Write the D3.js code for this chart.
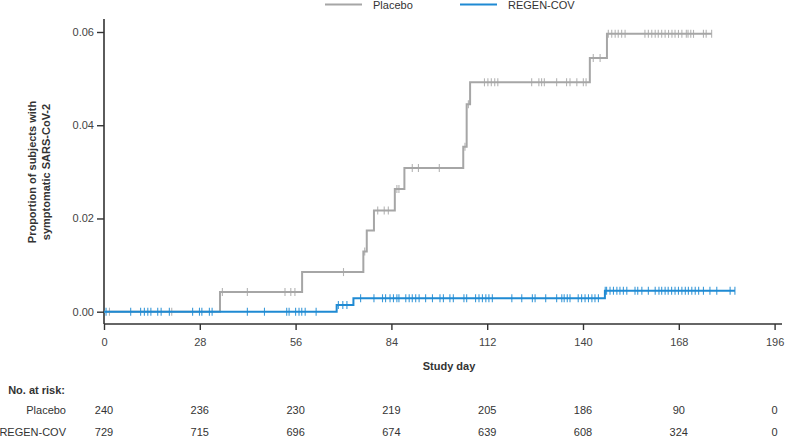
<!DOCTYPE html>
<html>
<head>
<meta charset="utf-8">
<script src="https://cdn.jsdelivr.net/npm/d3@7"></script>
<style>
  body { margin: 0; background: #fff; }
  svg { display: block; font-family: "Liberation Sans", Arial, sans-serif; }
</style>
</head>
<body>
<svg id="chart" width="796" height="438"></svg>
<script>
// ---------- Data ----------
const seriesNames = ["Placebo", "REGEN-COV"];
const seriesColors = ["#a6a6a6", "#1f8ad3"];
const censorColors = ["#b4b4b4", "#3b9ad9"];

// Kaplan-Meier cumulative incidence steps: [day, proportion]
const placeboSteps = [[0, 0], [33.9, 0.0042], [57.9, 0.0085], [75.8, 0.0129], [76.8, 0.0174],
  [78.9, 0.0217], [85.0, 0.0263], [87.8, 0.0308], [105.0, 0.0354], [106.0, 0.0445],
  [107.0, 0.0492], [142.0, 0.0544], [147.0, 0.0596]];
const placeboEnd = 177.6;
const placeboCensored = [1.6, 19.8, 34.6, 41.9, 52.9, 54.6, 55.8, 70.0, 76.2, 80.0, 81.9, 83.1,
  85.6, 86.2, 90.1, 91.9, 98.0, 105.5, 106.5, 111.2, 112.2, 113.2, 114.2, 115.1, 125.0, 127.1,
  127.9, 128.7, 132.3, 135.2, 136.2, 138.2, 140.1, 140.9, 143.0, 145.0, 147.4, 148.4, 149.4,
  150.3, 151.3, 152.3, 158.1, 159.1, 160.1, 161.1, 162.0, 163.0, 164.0, 165.0, 166.0, 166.9,
  167.9, 168.9, 170.2, 170.7, 171.5, 172.3, 175.2, 176.0, 177.6];

const regenSteps = [[0, 0], [68.0, 0.00144], [72.9, 0.00288], [146.4, 0.0045]];
const regenEnd = 184.4;
const regenCensored = [0.6, 7.8, 10.7, 11.8, 12.8, 13.7, 15.7, 16.7, 19.1, 25.9, 27.9, 28.6,
  30.8, 31.6, 41.9, 46.9, 53.4, 54.1, 56.0, 57.0, 57.8, 58.8, 62.0, 68.5, 69.8, 71.0,
  75.0, 78.9, 81.4, 82.3, 83.6, 84.6, 85.6, 86.2, 88.2, 89.2, 90.1, 91.1, 92.1, 94.0, 96.0,
  98.2, 99.2, 101.1, 102.1, 105.2, 106.0, 108.6, 109.6, 110.6, 111.6, 112.5, 113.5, 119.2,
  122.1, 125.2, 126.0, 129.1, 132.3, 133.8, 134.5, 135.4, 136.2, 138.6, 139.6, 140.6, 141.6,
  142.6, 143.5, 144.5, 146.5, 146.9, 147.9, 148.9, 149.9, 150.8, 151.8, 152.8, 155.2, 156.0,
  157.2, 159.1, 161.1, 162.2, 163.0, 164.0, 164.9, 165.9, 166.9, 167.9, 168.9, 169.9, 170.8,
  171.8, 172.8, 173.8, 175.2, 177.1, 179.1, 183.0, 184.4];

const xTicks = [0, 28, 56, 84, 112, 140, 168, 196];
const yTicks = [0, 0.02, 0.04, 0.06];
const riskPlacebo = [240, 236, 230, 219, 205, 186, 90, 0];
const riskRegen = [729, 715, 696, 674, 639, 608, 324, 0];

// ---------- Layout ----------
const svg = d3.select("#chart");
const x = d3.scaleLinear().domain([0, 196]).range([104, 774.6]);
const y = d3.scaleLinear().domain([0, 0.06]).range([311.7, 32]);
const axisY = 324, axisTop = 19, axisRight = 782;
const axisColor = "#333";

// Axes
const gx = svg.append("g").attr("transform", `translate(0,${axisY})`)
  .call(d3.axisBottom(x).tickValues(xTicks).tickFormat(d3.format("d")).tickSize(6).tickPadding(8).tickSizeOuter(0));
gx.select(".domain").remove();
svg.append("line").attr("x1", x(0)).attr("x2", axisRight).attr("y1", axisY).attr("y2", axisY)
  .attr("stroke", axisColor).attr("stroke-width", 1.6);

const gy = svg.append("g").attr("transform", `translate(${x(0)},0)`)
  .call(d3.axisLeft(y).tickValues(yTicks).tickFormat(d3.format(".2f")).tickSize(7).tickPadding(3).tickSizeOuter(0));
gy.select(".domain").remove();
svg.append("line").attr("x1", x(0)).attr("x2", x(0)).attr("y1", axisTop).attr("y2", axisY)
  .attr("stroke", axisColor).attr("stroke-width", 1.6);

[gx, gy].forEach(g => {
  g.selectAll(".tick line").attr("stroke", axisColor).attr("stroke-width", 1.4);
  g.selectAll(".tick text").attr("fill", "#444").attr("font-size", 11)
    .attr("font-family", "Liberation Sans, Arial, sans-serif");
});

// Axis titles
svg.append("text").attr("x", 449).attr("y", 370).attr("text-anchor", "middle")
  .attr("font-size", 11).attr("font-weight", "bold").attr("fill", "#333").text("Study day");
const yt = svg.append("text").attr("transform", "translate(36,172) rotate(-90)")
  .attr("text-anchor", "middle").attr("font-size", 11).attr("font-weight", "bold").attr("fill", "#333");
yt.append("tspan").attr("x", 0).attr("y", 0).text("Proportion of subjects with");
yt.append("tspan").attr("x", 0).attr("y", 14).text("symptomatic SARS-CoV-2");

// ---------- Curves ----------
function levelAt(steps, t) {
  let v = 0;
  for (const s of steps) if (s[0] <= t) v = s[1];
  return v;
}
const line = d3.line().x(d => x(d[0])).y(d => y(d[1])).curve(d3.curveStepAfter);

function drawSeries(steps, end, censored, color, ccolor) {
  const pts = steps.concat([[end, steps[steps.length - 1][1]]]);
  svg.append("g").selectAll("line.c").data(censored).join("line")
    .attr("x1", d => x(d)).attr("x2", d => x(d))
    .attr("y1", d => y(levelAt(steps, d)) - 4).attr("y2", d => y(levelAt(steps, d)) + 4)
    .attr("stroke", ccolor).attr("stroke-width", 1.1);
  svg.append("path").datum(pts).attr("d", line).attr("fill", "none")
    .attr("stroke", color).attr("stroke-width", 2);
}
drawSeries(placeboSteps, placeboEnd, placeboCensored, seriesColors[0], censorColors[0]);
drawSeries(regenSteps, regenEnd, regenCensored, seriesColors[1], censorColors[1]);

// ---------- Legend ----------
const legendX = [325, 460];
seriesNames.forEach((n, i) => {
  svg.append("line").attr("x1", legendX[i]).attr("x2", legendX[i] + 37).attr("y1", 4.5).attr("y2", 4.5)
    .attr("stroke", seriesColors[i]).attr("stroke-width", 2);
  svg.append("text").attr("x", legendX[i] + 48).attr("y", 8.5).attr("font-size", 11)
    .attr("fill", "#333").text(n);
});

// ---------- Risk table ----------
svg.append("text").attr("x", 65).attr("y", 394).attr("text-anchor", "end")
  .attr("font-size", 11).attr("font-weight", "bold").attr("fill", "#333").text("No. at risk:");
const rows = [[seriesNames[0], riskPlacebo, 414], [seriesNames[1], riskRegen, 436]];
rows.forEach(([name, vals, yy]) => {
  svg.append("text").attr("x", 66).attr("y", yy).attr("text-anchor", "end")
    .attr("font-size", 11).attr("fill", "#333").text(name);
  svg.append("g").selectAll("text").data(vals).join("text")
    .attr("x", (d, i) => x(xTicks[i])).attr("y", yy).attr("text-anchor", "middle")
    .attr("font-size", 11).attr("fill", "#333").text(d => d);
});
</script>
</body>
</html>
